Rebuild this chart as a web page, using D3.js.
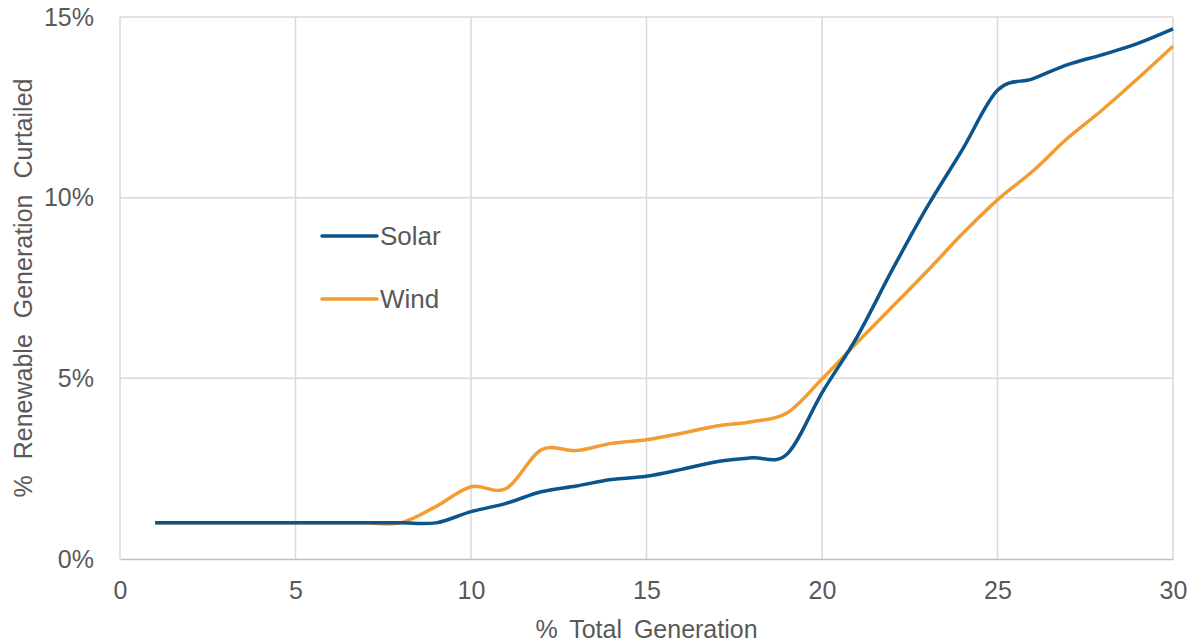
<!DOCTYPE html>
<html>
<head>
<meta charset="utf-8">
<script src="https://cdn.jsdelivr.net/npm/d3@7"></script>
<style>
  body { margin: 0; background: #fff; }
  text { font-family: "Liberation Sans", Arial, sans-serif; fill: #595959; }
</style>
</head>
<body>
<div id="chart"></div>
<script>
// data (x = % total generation)
var xVals = d3.range(1, 31);
var solar = [1.0, 1.0, 1.0, 1.0, 1.0, 1.0, 1.0, 1.0, 1.0, 1.31,
             1.54, 1.86, 2.02, 2.2, 2.29, 2.48, 2.69, 2.8, 2.9, 4.6,
             6.15, 8.0, 9.75, 11.33, 12.97, 13.29, 13.68, 13.96, 14.27, 14.67];
var wind = [1.0, 1.0, 1.0, 1.0, 1.0, 1.0, 1.0, 1.0, 1.45, 2.0,
            1.95, 3.02, 3.0, 3.2, 3.3, 3.48, 3.68, 3.8, 4.04, 4.98,
            5.99, 6.98, 7.97, 9.0, 9.94, 10.73, 11.65, 12.44, 13.3, 14.19];
var seriesNames = ["Solar", "Wind"];
var colors = ["#0b548c", "#f39c32"];
var xTicks = [0, 5, 10, 15, 20, 25, 30];
var yTicks = [0, 5, 10, 15];

var W = 1195, H = 644;
var m = {top: 17, right: 22, bottom: 85, left: 120};
var w = W - m.left - m.right,
  h = H - m.top - m.bottom;

var svg = d3.select("#chart").append("svg")
  .attr("width", W)
  .attr("height", H);

var g = svg.append("g")
  .attr("transform", "translate(" + m.left + "," + m.top + ")");

var x = d3.scaleLinear().domain([0, 30]).range([0, w]);
var y = d3.scaleLinear().domain([0, 15]).range([h, 0]);

// gridlines
g.append("g").selectAll("line.vg")
  .data(xTicks)
  .enter().append("line")
  .attr("x1", function(d) { return x(d); })
  .attr("x2", function(d) { return x(d); })
  .attr("y1", 0)
  .attr("y2", h)
  .attr("stroke", "#d9d9d9")
  .attr("stroke-width", 1.5);

g.append("g").selectAll("line.hg")
  .data(yTicks.slice(1))
  .enter().append("line")
  .attr("x1", 0)
  .attr("x2", w)
  .attr("y1", function(d) { return y(d); })
  .attr("y2", function(d) { return y(d); })
  .attr("stroke", "#d9d9d9")
  .attr("stroke-width", 1.5);

// axes
var xAxis = d3.axisBottom(x).tickValues(xTicks).tickSize(0).tickPadding(22);
var yAxis = d3.axisLeft(y).tickValues(yTicks).tickSize(0).tickPadding(26)
  .tickFormat(function(d) { return d + "%"; });

var gx = g.append("g")
  .attr("transform", "translate(0," + h + ")")
  .call(xAxis);
gx.select(".domain").attr("stroke", "#bfbfbf").attr("stroke-width", 1.5);
gx.selectAll("text").style("font-size", "25px").attr("fill", "#595959");

var gy = g.append("g").call(yAxis);
gy.select(".domain").remove();
gy.selectAll("text").style("font-size", "25px").attr("fill", "#595959");

// axis titles
svg.append("text")
  .attr("x", m.left + w / 2)
  .attr("y", 638)
  .attr("text-anchor", "middle")
  .style("font-size", "25px")
  .style("word-spacing", "5px")
  .text("% Total Generation");

svg.append("text")
  .attr("transform", "translate(32," + (m.top + h / 2) + ") rotate(-90)")
  .attr("text-anchor", "middle")
  .style("font-size", "25px")
  .style("word-spacing", "9px")
  .text("% Renewable Generation Curtailed");

// lines
var line = d3.line()
  .x(function(d) { return x(d[0]); })
  .y(function(d) { return y(d[1]); })
  .curve(d3.curveCardinal.tension(0));

var allSeries = [solar, wind];
allSeries.slice().reverse().forEach(function(s, i) {
  var k = allSeries.length - 1 - i;
  g.append("path")
    .datum(xVals.map(function(v, j) { return [v, s[j]]; }))
    .attr("fill", "none")
    .attr("stroke", colors[k])
    .attr("stroke-width", 3.5)
    .attr("stroke-linejoin", "round")
    .attr("d", line);
});

// legend
var legend = svg.append("g").selectAll("g.leg")
  .data(seriesNames)
  .enter().append("g")
  .attr("transform", function(d, i) { return "translate(322," + (236 + i * 63) + ")"; });

legend.append("line")
  .attr("x1", 0).attr("x2", 55)
  .attr("stroke", function(d, i) { return colors[i]; })
  .attr("stroke-width", 3.5)
  .attr("stroke-linecap", "round");

legend.append("text")
  .attr("x", 58)
  .attr("dy", "0.35em")
  .style("font-size", "26px")
  .text(function(d) { return d; });
</script>
</body>
</html>
